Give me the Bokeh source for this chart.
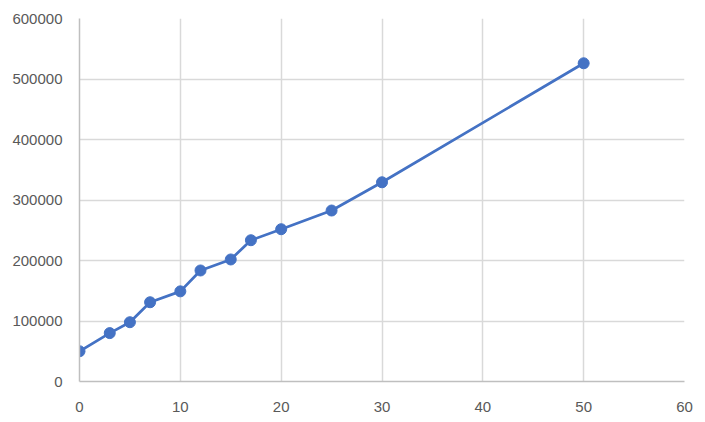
from bokeh.plotting import figure
from bokeh.models import Range1d, FixedTicker
from bokeh.embed import file_html
from bokeh.resources import INLINE

x_values = [0, 3, 5, 7, 10, 12, 15, 17, 20, 25, 30, 50]
y_values = [50000, 80000, 98000, 131000, 149000, 183500, 201700, 233500, 251700, 282600, 329300, 526000]
x_ticks = [0, 10, 20, 30, 40, 50, 60]
y_ticks = [0, 100000, 200000, 300000, 400000, 500000, 600000]

color = "#4472C4"
font = "Liberation Sans"

p = figure(width=697, height=414, output_backend="svg", toolbar_location=None,
           x_range=Range1d(0, 60), y_range=Range1d(0, 600000),
           min_border_left=79, min_border_right=13, min_border_top=18, min_border_bottom=10)
p.outline_line_color = None
p.background_fill_color = "white"
p.border_fill_color = "white"

p.line(x_values, y_values, line_color=color, line_width=2.75)
p.scatter(x_values, y_values, size=11, fill_color=color, line_color=color)

for ax in (p.xaxis[0], p.yaxis[0]):
    ax.major_tick_line_color = None
    ax.minor_tick_line_color = None
    ax.major_label_text_font = font
    ax.major_label_text_font_size = "15px"
    ax.major_label_text_color = "#595959"
    ax.axis_line_color = "#bfbfbf"
    ax.axis_line_width = 1.5

p.xaxis.ticker = FixedTicker(ticks=x_ticks)
p.yaxis.ticker = FixedTicker(ticks=y_ticks)
p.yaxis.formatter.use_scientific = False
p.xaxis.major_label_standoff = 14
p.yaxis.major_label_standoff = 11

p.xgrid.ticker = FixedTicker(ticks=x_ticks)
p.ygrid.ticker = FixedTicker(ticks=y_ticks)
p.grid.grid_line_color = "#d9d9d9"
p.grid.grid_line_width = 1.5

open("out.html", "w").write(file_html(p, INLINE))
